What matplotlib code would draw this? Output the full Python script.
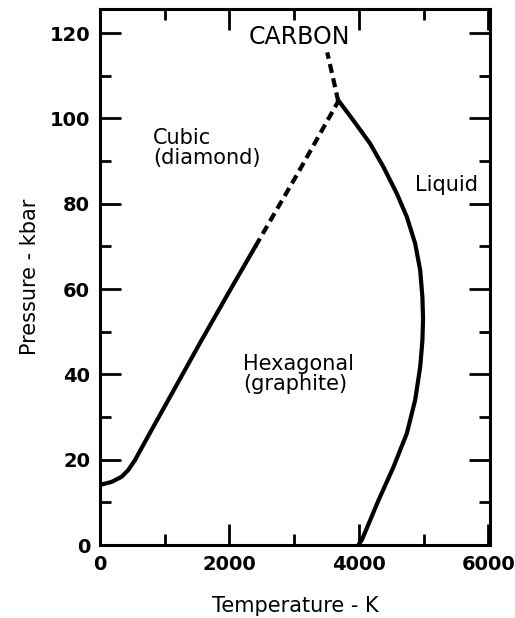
import matplotlib
matplotlib.use("Agg")
import matplotlib.pyplot as plt
import numpy as np
from matplotlib.ticker import MultipleLocator

plt.rcParams['font.family'] = ['DejaVu Sans']

# Diamond-graphite boundary (solid part)
dg_T = [0, 180, 335, 438, 541, 696, 1550, 2000, 2400]
dg_P = [14.1, 14.8, 16.0, 17.6, 19.9, 24.2, 47.5, 59.5, 70.0]
# Diamond-graphite boundary (dashed extrapolation)
dgx_T = [2400, 3050, 3680]
dgx_P = [70.0, 87.0, 104.0]
# Diamond-liquid boundary (dashed)
dl_T = [3680, 3630, 3570, 3510]
dl_P = [104.0, 107.5, 111.5, 115.5]
# Graphite-liquid melting curve
gl_T = [3684, 3916, 4173, 4379, 4585, 4740, 4868, 4946, 4980, 4990, 4980, 4946, 4868, 4740, 4533, 4302, 4045, 3990]
gl_P = [104.2, 99.5, 94.1, 88.6, 82.4, 76.9, 70.7, 64.4, 58.1, 53.0, 48.0, 41.8, 34.0, 26.2, 18.3, 10.5, 1.2, 0.0]

xticks = [0, 2000, 4000, 6000]
yticks = [0, 20, 40, 60, 80, 100, 120]

fig = plt.figure(figsize=(5.15, 6.18), dpi=100)
ax = fig.add_axes([0.194, 0.118, 0.757, 0.867])

lw = 3.0
ax.plot(dg_T, dg_P, color='black', lw=lw, solid_joinstyle='round')
ax.plot(dgx_T, dgx_P, color='black', lw=lw, dashes=(2.2, 1.3))
ax.plot(dl_T, dl_P, color='black', lw=lw, dashes=(2.2, 1.3))
ax.plot(gl_T, gl_P, color='black', lw=lw, solid_joinstyle='round')

ax.set_xlim(0, 6020)
ax.set_ylim(0, 125.6)
ax.set_xticks(xticks)
ax.set_yticks(yticks)
ax.xaxis.set_minor_locator(MultipleLocator(1000))
ax.yaxis.set_minor_locator(MultipleLocator(10))
ax.tick_params(which='both', direction='in', top=True, right=True, width=2.0, color='black')
ax.tick_params(which='major', length=15, pad=7, labelsize=14)
ax.tick_params(which='minor', length=8)
for lab in ax.get_xticklabels() + ax.get_yticklabels():
    lab.set_fontweight('bold')
for s in ax.spines.values():
    s.set_linewidth(2.2)

ax.set_xlabel('Temperature - K', fontsize=15, labelpad=16)
ax.set_ylabel('Pressure - kbar', fontsize=15, labelpad=7)

ax.text(3080, 119, 'CARBON', fontsize=17, ha='center', va='center')
ax.text(820, 93, 'Cubic\n(diamond)', fontsize=15, ha='left', va='center', linespacing=1.0)
ax.text(2210, 40, 'Hexagonal\n(graphite)', fontsize=15, ha='left', va='center', linespacing=1.0)
ax.text(5840, 84.5, 'Liquid', fontsize=15, ha='right', va='center')

fig.savefig('out.png', dpi=100)
